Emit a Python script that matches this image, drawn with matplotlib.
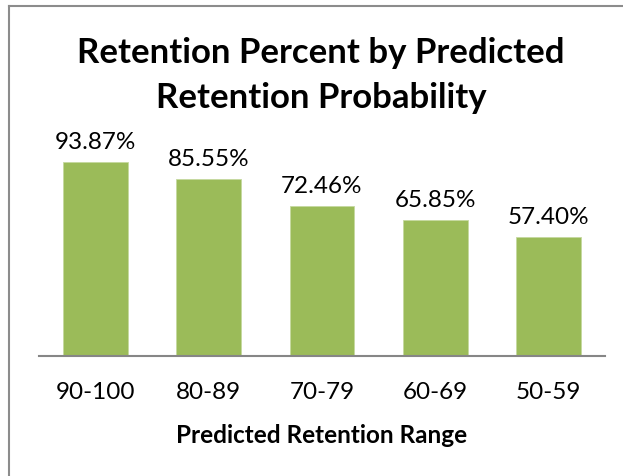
import matplotlib
matplotlib.use("Agg")
import matplotlib.pyplot as plt
from matplotlib.lines import Line2D

categories = ["90-100", "80-89", "70-79", "60-69", "50-59"]
values = [93.87, 85.55, 72.46, 65.85, 57.40]
value_labels = ["93.87%", "85.55%", "72.46%", "65.85%", "57.40%"]

plt.rcParams['font.family'] = ['Lato', 'DejaVu Sans']

W, H = 623, 477
fig = plt.figure(figsize=(W / 100, H / 100), dpi=100)
fig.patch.set_facecolor("white")

# chart frame (partially cut off)
fig.add_artist(Line2D([8.5 / W, 8.5 / W], [0, 1 - 6.5 / H], transform=fig.transFigure, color="#8c8c8c", lw=1.5))
fig.add_artist(Line2D([8.5 / W, 1.01], [1 - 6.5 / H, 1 - 6.5 / H], transform=fig.transFigure, color="#8c8c8c", lw=1.5))

left, right = 39, 605
bottom, top = 357, 150
ax = fig.add_axes([left / W, 1 - bottom / H, (right - left) / W, (bottom - top) / H])
x = range(len(categories))
bars = ax.bar(x, values, width=0.574, color="#9BBB59", edgecolor="#c5d9a0", linewidth=0.6)
ax.set_xlim(-0.5, len(categories) - 0.5)
ax.set_ylim(0, 100)
for i, (v, lab) in enumerate(zip(values, value_labels)):
    ax.annotate(lab, (i, v), xytext=(0, 7), textcoords="offset points", ha="center", va="bottom", fontsize=17.5, color="#000000")

for s in ["left", "right", "top"]:
    ax.spines[s].set_visible(False)
ax.spines["bottom"].set_color("#868686")
ax.spines["bottom"].set_linewidth(1.5)
ax.set_yticks([])
ax.set_xticks(list(x))
ax.set_xticklabels(categories, fontsize=17.5)
ax.tick_params(axis="x", length=0, pad=18)
ax.set_xlabel("Predicted Retention Range", fontsize=17.5, fontweight="bold", labelpad=15)

fig.text(321 / W, 1 - 53 / H, "Retention Percent by Predicted", ha="center", va="center", fontsize=25, fontweight="bold")
fig.text(321 / W, 1 - 98 / H, "Retention Probability", ha="center", va="center", fontsize=25, fontweight="bold")

fig.savefig("out.png", dpi=100)
